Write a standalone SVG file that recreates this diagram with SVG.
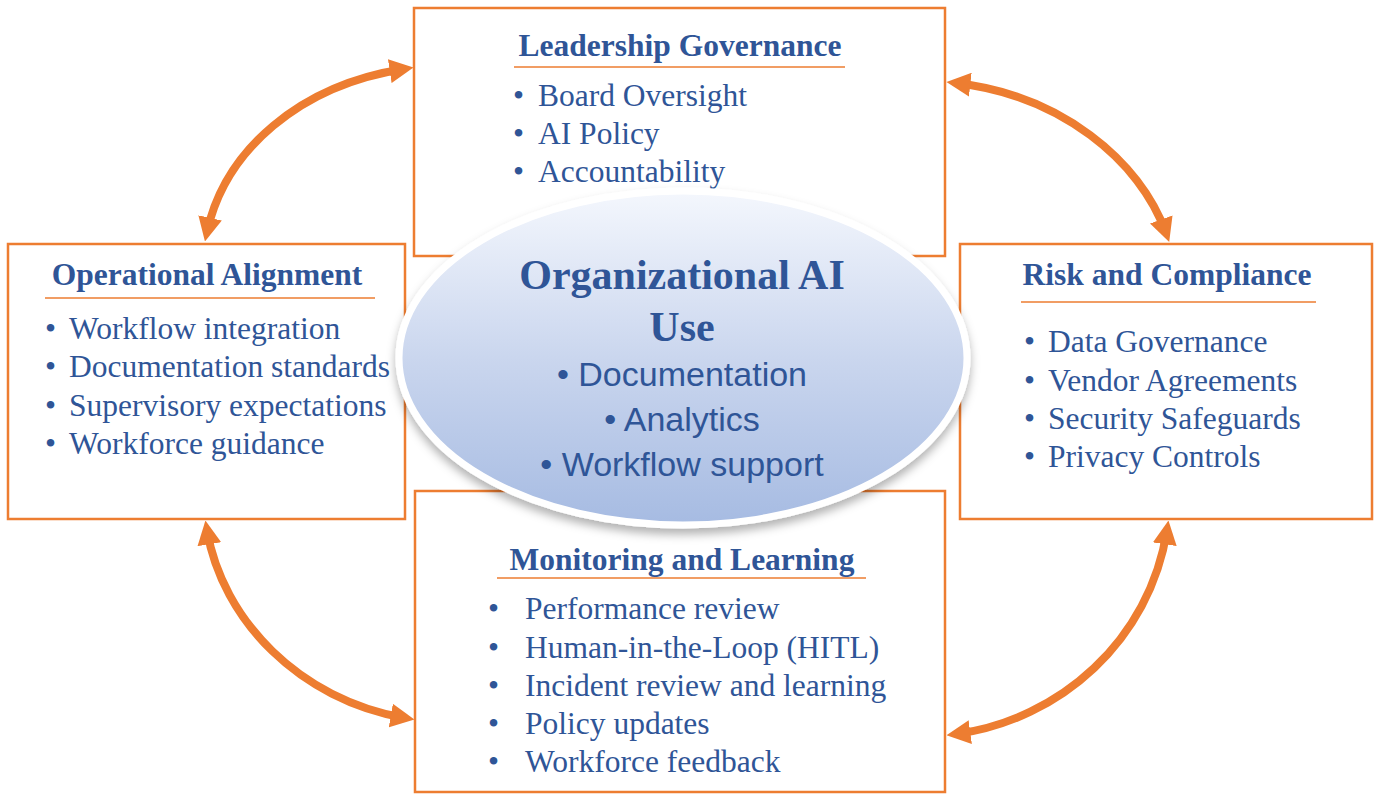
<svg xmlns="http://www.w3.org/2000/svg" width="1376" height="794" viewBox="0 0 1376 794">
<style>
.box{fill:#fff;stroke:#ED7D31;stroke-width:2.5}
.hd{font-family:"Liberation Serif",serif;font-weight:bold;font-size:31.5px;fill:#2F5597;text-anchor:middle}
.it{font-family:"Liberation Serif",serif;font-size:31.5px;fill:#2F5597}
.ul{stroke:#ED7D31;stroke-width:1.5}
.arr{fill:none;stroke:#ED7D31;stroke-width:8;marker-start:url(#ah);marker-end:url(#ah)}
.ct{font-family:"Liberation Serif",serif;font-weight:bold;font-size:42px;fill:#2F5597;text-anchor:middle}
.cb{font-family:"Liberation Sans",sans-serif;font-size:34px;fill:#2F5597;text-anchor:middle}
</style>
<defs>
<marker id="ah" viewBox="0 0 10 10" refX="6" refY="5" markerWidth="24" markerHeight="24" markerUnits="userSpaceOnUse" orient="auto-start-reverse">
<path d="M0,0 L10,5 L0,10 Z" fill="#ED7D31"/>
</marker>
<linearGradient id="eg" x1="0" y1="0" x2="0" y2="1">
<stop offset="0" stop-color="#F4F7FD"/>
<stop offset="0.5" stop-color="#CAD6EE"/>
<stop offset="1" stop-color="#A6BBE2"/>
</linearGradient>
<filter id="sh" x="-10%" y="-10%" width="120%" height="130%">
<feDropShadow dx="0" dy="6" stdDeviation="5" flood-color="#000" flood-opacity="0.3"/>
</filter>
</defs>
<rect width="1376" height="794" fill="#fff"/>

<g id="connectors">
<path class="arr" d="M207,232 C225,150 300,85 404,69"/>
<path class="arr" d="M956,83 C1060,95 1140,160 1166,233"/>
<path class="arr" d="M207,530 C222,620 300,700 405,718"/>
<path class="arr" d="M1167,530 C1150,640 1060,720 956,734"/>
</g>

<g id="leadership">
<rect class="box" x="414" y="8" width="531" height="248"/>
<text class="hd" x="680" y="56">Leadership Governance</text>
<line class="ul" x1="514" y1="67" x2="845" y2="67"/>
<text class="it" x="513" y="106">•</text><text class="it" x="538" y="106">Board Oversight</text>
<text class="it" x="513" y="144">•</text><text class="it" x="538" y="144">AI Policy</text>
<text class="it" x="513" y="182">•</text><text class="it" x="538" y="182">Accountability</text>
</g>

<g id="operational">
<rect class="box" x="8" y="244" width="397" height="275"/>
<text class="hd" x="207" y="285">Operational Alignment</text>
<line class="ul" x1="45" y1="298" x2="375" y2="298"/>
<text class="it" x="45" y="339">•</text><text class="it" x="69" y="339">Workflow integration</text>
<text class="it" x="45" y="377">•</text><text class="it" x="69" y="377">Documentation standards</text>
<text class="it" x="45" y="416">•</text><text class="it" x="69" y="416">Supervisory expectations</text>
<text class="it" x="45" y="454">•</text><text class="it" x="69" y="454">Workforce guidance</text>
</g>

<g id="risk">
<rect class="box" x="960" y="244" width="412" height="275"/>
<text class="hd" x="1167" y="285">Risk and Compliance</text>
<line class="ul" x1="1021" y1="302" x2="1316" y2="302"/>
<text class="it" x="1024" y="352">•</text><text class="it" x="1048" y="352">Data Governance</text>
<text class="it" x="1024" y="391">•</text><text class="it" x="1048" y="391">Vendor Agreements</text>
<text class="it" x="1024" y="429">•</text><text class="it" x="1048" y="429">Security Safeguards</text>
<text class="it" x="1024" y="467">•</text><text class="it" x="1048" y="467">Privacy Controls</text>
</g>

<g id="monitoring">
<rect class="box" x="415" y="491" width="530" height="301"/>
<text class="hd" x="682" y="570">Monitoring and Learning</text>
<line class="ul" x1="497" y1="578" x2="866" y2="578"/>
<text class="it" x="488" y="619">•</text><text class="it" x="525" y="619">Performance review</text>
<text class="it" x="488" y="658">•</text><text class="it" x="525" y="658">Human-in-the-Loop (HITL)</text>
<text class="it" x="488" y="696">•</text><text class="it" x="525" y="696">Incident review and learning</text>
<text class="it" x="488" y="734">•</text><text class="it" x="525" y="734">Policy updates</text>
<text class="it" x="488" y="772">•</text><text class="it" x="525" y="772">Workforce feedback</text>
</g>

<g id="center">
<ellipse cx="683" cy="358" rx="284" ry="167" fill="url(#eg)" stroke="#fff" stroke-width="7" filter="url(#sh)"/>
<text class="ct" x="682" y="289">Organizational AI</text>
<text class="ct" x="682" y="341">Use</text>
<text class="cb" x="682" y="386">• Documentation</text>
<text class="cb" x="682" y="431">• Analytics</text>
<text class="cb" x="682" y="476">• Workflow support</text>
</g>
</svg>
